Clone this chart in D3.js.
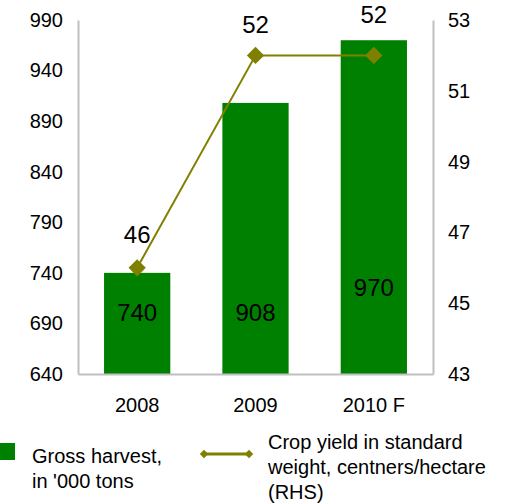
<!DOCTYPE html>
<html>
<head>
<meta charset="utf-8">
<script src="https://cdn.jsdelivr.net/npm/d3@7"></script>
<style>
  html, body { margin: 0; padding: 0; background: #fff; }
  svg { display: block; font-family: "Liberation Sans", Arial, sans-serif; }
</style>
</head>
<body>
<svg id="chart" width="518" height="503"></svg>
<script>
// ---- data ----
const categories = ["2008", "2009", "2010 F"];
const grossHarvest = [740, 908, 970];
const cropYield = [46, 52, 52];
const leftTicks = [640, 690, 740, 790, 840, 890, 940, 990];
const rightTicks = [43, 45, 47, 49, 51, 53];
const legendBar = ["Gross harvest,", "in '000 tons"];
const legendLine = ["Crop yield in standard", "weight, centners/hectare", "(RHS)"];

// ---- label placement (style, px offsets) ----
const barLabelBaseline = [321, 321, 296];
const lineLabelDy = [-25, -22, -32];

(function () {
const svg = d3.select("#chart");
const mLeft = 78, mRight = 433, mTop = 20, mBottom = 374;
const green = "#008000", olive = "#808000", axisGrey = "#c0c0c0";

const x = d3.scaleBand().domain(categories).range([mLeft, mRight])
  .paddingInner(0.44).paddingOuter(0.22);
const yL = d3.scaleLinear().domain([640, 990]).range([mBottom, mTop]);
const yR = d3.scaleLinear().domain([43, 53]).range([mBottom, mTop]);

// bars
svg.selectAll("rect.bar").data(grossHarvest).enter().append("rect")
  .attr("x", (d, i) => x(categories[i]))
  .attr("width", x.bandwidth())
  .attr("y", d => yL(d))
  .attr("height", d => yL(640) - yL(d))
  .attr("fill", green);

// axes
const axisL = d3.axisLeft(yL).tickValues(leftTicks).tickSize(0).tickPadding(15);
const gL = svg.append("g").attr("transform", `translate(${mLeft},0)`).call(axisL);
const axisR = d3.axisRight(yR).tickValues(rightTicks).tickSize(0).tickPadding(15);
const gR = svg.append("g").attr("transform", `translate(${mRight},0)`).call(axisR);
const axisB = d3.axisBottom(x).tickSize(0).tickPadding(24);
const gB = svg.append("g").attr("transform", `translate(0,${mBottom})`).call(axisB);
[gL, gR, gB].forEach(g => {
  g.select(".domain").attr("stroke", axisGrey).attr("stroke-width", 2);
  g.selectAll("text").attr("font-size", 20).attr("fill", "#000")
    .attr("font-family", "Liberation Sans, Arial, sans-serif");
});
gB.selectAll("text").attr("dy", "0.71em");

// line
const cx = i => x(categories[i]) + x.bandwidth() / 2;
const line = d3.line().x((d, i) => cx(i)).y(d => yR(d));
svg.append("path").datum(cropYield)
  .attr("d", line).attr("fill", "none")
  .attr("stroke", olive).attr("stroke-width", 2);
svg.selectAll("path.mk").data(cropYield).enter().append("path")
  .attr("d", d3.symbol().type(d3.symbolSquare).size(150))
  .attr("transform", (d, i) => `translate(${cx(i)},${yR(d)}) rotate(45)`)
  .attr("fill", olive);

// labels on line
svg.selectAll("text.ll").data(cropYield).enter().append("text")
  .attr("x", (d, i) => cx(i))
  .attr("y", (d, i) => yR(d) + lineLabelDy[i])
  .attr("text-anchor", "middle").attr("font-size", 24).attr("fill", "#000")
  .text(d => d);

// labels in bars
svg.selectAll("text.bl").data(grossHarvest).enter().append("text")
  .attr("x", (d, i) => cx(i))
  .attr("y", (d, i) => barLabelBaseline[i])
  .attr("text-anchor", "middle").attr("font-size", 24).attr("fill", "#000")
  .text(d => d);

// legend
const lg = svg.append("g");
lg.append("rect").attr("x", -2).attr("y", 443).attr("width", 17).attr("height", 17).attr("fill", green);
lg.append("text").attr("x", 32).attr("y", 463).attr("font-size", 20)
  .selectAll("tspan").data(legendBar).enter().append("tspan")
  .attr("x", 32).attr("dy", (d, i) => i === 0 ? 0 : 25).text(d => d);
lg.append("line").attr("x1", 204).attr("x2", 249).attr("y1", 454).attr("y2", 454)
  .attr("stroke", olive).attr("stroke-width", 3);
lg.selectAll("path.lm").data([204, 249]).enter().append("path")
  .attr("d", d3.symbol().type(d3.symbolSquare).size(36))
  .attr("transform", d => `translate(${d},454) rotate(45)`)
  .attr("fill", olive);
lg.append("text").attr("x", 268).attr("y", 449).attr("font-size", 20)
  .selectAll("tspan").data(legendLine).enter().append("tspan")
  .attr("x", 268).attr("dy", (d, i) => i === 0 ? 0 : 25).text(d => d);
})();
</script>
</body>
</html>
